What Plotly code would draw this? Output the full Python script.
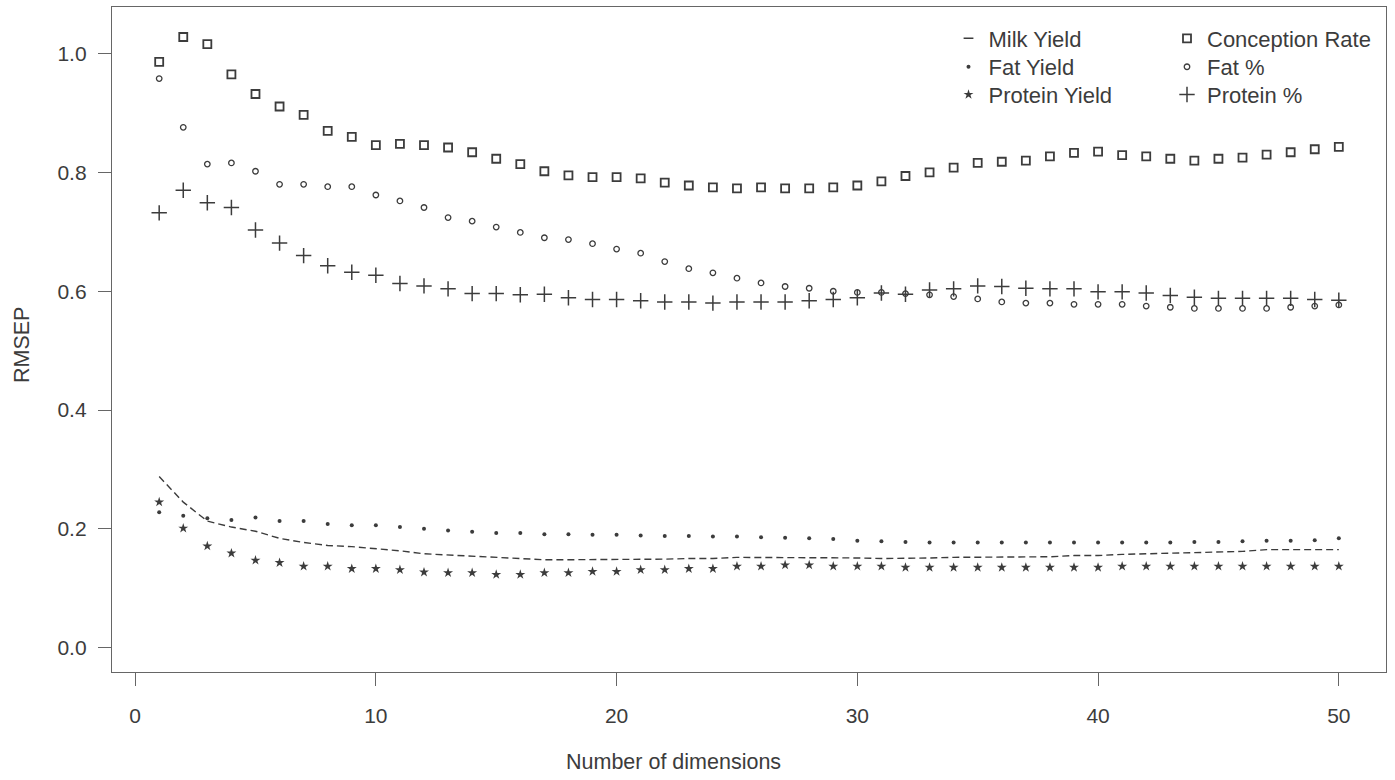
import plotly.graph_objects as go

dims = list(range(1, 51))

milk_yield = [0.288, 0.245, 0.213, 0.203, 0.196, 0.184, 0.177, 0.172, 0.170, 0.167,
              0.163, 0.158, 0.156, 0.153, 0.151, 0.149, 0.148, 0.148, 0.148, 0.148,
              0.148, 0.149, 0.150, 0.150, 0.152, 0.152, 0.152, 0.152, 0.152, 0.151,
              0.150, 0.150, 0.151, 0.152, 0.152, 0.152, 0.153, 0.153, 0.155, 0.155,
              0.157, 0.158, 0.159, 0.161, 0.162, 0.162, 0.165, 0.165, 0.165, 0.165]

fat_yield = [0.228, 0.222, 0.218, 0.215, 0.219, 0.213, 0.213, 0.208, 0.206, 0.206,
             0.203, 0.200, 0.197, 0.195, 0.193, 0.193, 0.191, 0.191, 0.190, 0.190,
             0.189, 0.188, 0.188, 0.187, 0.187, 0.186, 0.185, 0.184, 0.183, 0.180,
             0.179, 0.178, 0.177, 0.177, 0.177, 0.177, 0.177, 0.177, 0.177, 0.177,
             0.177, 0.177, 0.177, 0.178, 0.178, 0.179, 0.180, 0.180, 0.181, 0.184]

protein_yield = [0.245, 0.201, 0.171, 0.159, 0.147, 0.143, 0.137, 0.137, 0.133, 0.133,
                 0.131, 0.127, 0.126, 0.126, 0.123, 0.123, 0.126, 0.126, 0.128, 0.128,
                 0.131, 0.131, 0.133, 0.133, 0.137, 0.137, 0.139, 0.139, 0.137, 0.137,
                 0.137, 0.135, 0.135, 0.135, 0.135, 0.135, 0.135, 0.135, 0.135, 0.135,
                 0.137, 0.137, 0.137, 0.137, 0.137, 0.137, 0.137, 0.137, 0.137, 0.137]

conception_rate = [0.986, 1.028, 1.016, 0.965, 0.932, 0.911, 0.897, 0.870, 0.860, 0.846,
                   0.848, 0.846, 0.842, 0.834, 0.823, 0.814, 0.802, 0.795, 0.792, 0.792,
                   0.790, 0.783, 0.778, 0.775, 0.773, 0.775, 0.773, 0.773, 0.775, 0.778,
                   0.785, 0.794, 0.800, 0.808, 0.816, 0.818, 0.820, 0.827, 0.833, 0.835,
                   0.829, 0.827, 0.823, 0.820, 0.823, 0.825, 0.830, 0.834, 0.839, 0.843]

fat_pct = [0.958, 0.876, 0.814, 0.816, 0.802, 0.780, 0.780, 0.776, 0.776, 0.762,
           0.752, 0.741, 0.724, 0.718, 0.708, 0.699, 0.690, 0.687, 0.680, 0.671,
           0.664, 0.650, 0.638, 0.631, 0.622, 0.614, 0.608, 0.605, 0.600, 0.598,
           0.598, 0.596, 0.594, 0.591, 0.587, 0.582, 0.580, 0.580, 0.578, 0.578,
           0.578, 0.575, 0.573, 0.571, 0.571, 0.571, 0.571, 0.573, 0.575, 0.577]

protein_pct = [0.732, 0.770, 0.749, 0.741, 0.703, 0.681, 0.660, 0.643, 0.632, 0.627,
               0.613, 0.609, 0.604, 0.596, 0.596, 0.594, 0.595, 0.589, 0.586, 0.586,
               0.584, 0.582, 0.582, 0.580, 0.582, 0.582, 0.582, 0.584, 0.586, 0.589,
               0.597, 0.595, 0.602, 0.604, 0.609, 0.608, 0.605, 0.604, 0.604, 0.599,
               0.599, 0.597, 0.593, 0.590, 0.588, 0.588, 0.588, 0.588, 0.586, 0.585]

x_ticks = [0, 10, 20, 30, 40, 50]
y_ticks = [0.0, 0.2, 0.4, 0.6, 0.8, 1.0]

INK = "#3c3c3c"
FONT = "Liberation Sans, Arial, sans-serif"

fig = go.Figure()

# Milk Yield: dashed line (legend shown through a marker-only entry)
fig.add_trace(go.Scatter(x=dims, y=milk_yield, mode="lines", name="Milk Yield",
                         line=dict(color=INK, width=1.4, dash="7px,4px"),
                         showlegend=False, legendgroup="milk"))
fig.add_trace(go.Scatter(x=[None], y=[None], mode="markers", name="Milk Yield",
                         marker=dict(symbol="line-ew-open", size=7, color=INK,
                                     line=dict(color=INK, width=1.6)),
                         legend="legend", legendgroup="milk"))
fig.add_trace(go.Scatter(x=dims, y=fat_yield, mode="markers", name="Fat Yield",
                         marker=dict(symbol="circle", size=4, color=INK),
                         legend="legend2"))
fig.add_trace(go.Scatter(x=dims, y=protein_yield, mode="markers", name="Protein Yield",
                         marker=dict(symbol="star", size=7.5, color=INK),
                         legend="legend3"))
fig.add_trace(go.Scatter(x=dims, y=conception_rate, mode="markers", name="Conception Rate",
                         marker=dict(symbol="square-open", size=8, color=INK,
                                     line=dict(color=INK, width=1.8)),
                         legend="legend4"))
fig.add_trace(go.Scatter(x=dims, y=fat_pct, mode="markers", name="Fat %",
                         marker=dict(symbol="circle-open", size=5.5, color=INK,
                                     line=dict(color=INK, width=1.3)),
                         legend="legend5"))
fig.add_trace(go.Scatter(x=dims, y=protein_pct, mode="markers", name="Protein %",
                         marker=dict(symbol="cross-thin-open", size=11, color=INK,
                                     line=dict(color=INK, width=1.5)),
                         legend="legend6"))

axis_common = dict(showgrid=False, zeroline=False, showline=True, mirror=True,
                   linecolor="#666666", linewidth=1.3, ticks="outside", ticklen=13,
                   tickwidth=1.3, tickcolor="#666666",
                   tickfont=dict(family=FONT, size=21, color=INK))

fig.update_xaxes(range=[-0.96, 51.96], tickvals=x_ticks, ticklabelstandoff=12, **axis_common)
fig.update_yaxes(range=[-0.041, 1.0785], tickvals=y_ticks, tickformat=".1f",
                 ticklabelstandoff=7, **axis_common)

legend_common = dict(font=dict(family=FONT, size=22, color=INK), bgcolor="rgba(0,0,0,0)",
                     borderwidth=0, orientation="v", xanchor="left", yanchor="top",
                     itemsizing="trace")

col_x = [0.6566, 0.8281]
row_y = [0.9842, 0.9414, 0.8997]

fig.update_layout(
    width=1395, height=780,
    margin=dict(l=112, r=9, t=7, b=108),
    paper_bgcolor="white", plot_bgcolor="white",
    font=dict(family=FONT, color=INK),
    legend=dict(x=col_x[0], y=row_y[0], **legend_common),
    legend2=dict(x=col_x[0], y=row_y[1], **legend_common),
    legend3=dict(x=col_x[0], y=row_y[2], **legend_common),
    legend4=dict(x=col_x[1], y=row_y[0], **legend_common),
    legend5=dict(x=col_x[1], y=row_y[1], **legend_common),
    legend6=dict(x=col_x[1], y=row_y[2], **legend_common),
    annotations=[
        dict(text="Number of dimensions", xref="paper", yref="paper",
             x=(673 - 112) / 1274, y=-(762 - 672) / 665, xanchor="center", yanchor="middle",
             showarrow=False, font=dict(family=FONT, size=21.5, color=INK)),
        dict(text="RMSEP", xref="paper", yref="paper", textangle=-90,
             x=(22 - 112) / 1274, y=1 - (345 - 7) / 665, xanchor="center", yanchor="middle",
             showarrow=False, font=dict(family=FONT, size=21.5, color=INK)),
    ],
)

fig.write_html("out.html", config={"displayModeBar": False},
               post_script="document.body.style.margin='0';")
